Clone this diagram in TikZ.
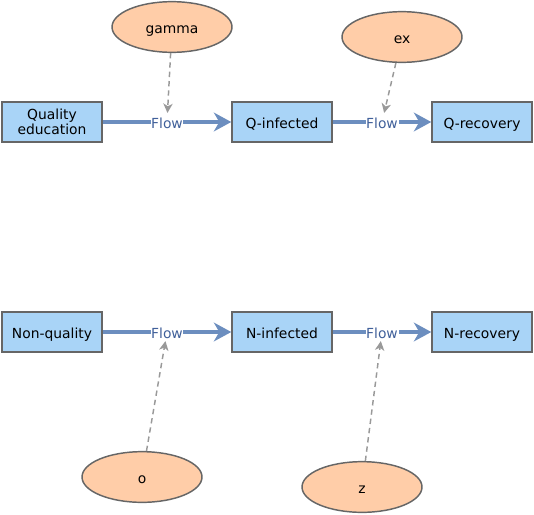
\documentclass[tikz,border=0pt]{standalone}
\usepackage{fontspec}
\setmainfont{DejaVu Sans}
\usetikzlibrary{arrows.meta,shapes.geometric}
\definecolor{boxfill}{HTML}{A9D4F7}
\definecolor{ovalfill}{HTML}{FFCDA8}
\definecolor{flowblue}{HTML}{6C8EBF}
\definecolor{flowtext}{HTML}{40609A}
\begin{document}
\begin{tikzpicture}[x=0.75pt, y=-0.75pt, font=\fontsize{10.4}{12}\selectfont,
    stock/.style={draw=black!60, fill=boxfill, line width=1.1pt, minimum width=75pt, minimum height=30pt, align=center, inner sep=1pt},
    oneline/.style={text height=10pt, text depth=0pt},
    param/.style={draw=black!60, fill=ovalfill, line width=1.1pt, ellipse, minimum width=90pt, minimum height=38pt, inner sep=0pt, text height=10pt, text depth=0pt},
    flow/.style={draw=flowblue, line width=2.6pt, -{Stealth[length=13pt, width=14pt, inset=4pt]}},
    flowlabel/.style={fill=white, text=flowtext, inner sep=0.5pt},
    link/.style={draw=black!40, dash pattern=on 4pt off 3pt, line width=1.1pt, -{Stealth[length=7pt, width=7pt, inset=2pt]}}]
        % Bounding box
        \useasboundingbox (0,0) rectangle (534,514);

        % Stocks
        \node[stock] (qual) at (52,122) {Quality\\[-0.5pt]education};
        \node[stock, oneline] (qinf) at (282,122) {Q-infected};
        \node[stock, oneline] (qrec) at (482,122) {Q-recovery};
        \node[stock, oneline] (nonq) at (52,332) {Non-quality};
        \node[stock, oneline] (ninf) at (282,332) {N-infected};
        \node[stock, oneline] (nrec) at (482,332) {N-recovery};

        % Parameters
        \node[param] (gamma) at (172,27) {gamma};
        \node[param] (ex) at (402,37) {ex};
        \node[param] (o) at (142,477) {o};
        \node[param] (z) at (362,487) {z};

        % Flows
        \draw[flow] (qual) -- node[flowlabel, oneline] (f1) {Flow} (qinf);
        \draw[flow] (qinf) -- node[flowlabel, oneline] (f2) {Flow} (qrec);
        \draw[flow] (nonq) -- node[flowlabel, oneline] (f3) {Flow} (ninf);
        \draw[flow] (ninf) -- node[flowlabel, oneline] (f4) {Flow} (nrec);

        % Links from parameters
        \draw[link] (gamma) -- (f1);
        \draw[link] (ex) -- (f2);
        \draw[link] (o) -- (f3);
        \draw[link] (z) -- (f4);
      \end{tikzpicture}
\end{document}
